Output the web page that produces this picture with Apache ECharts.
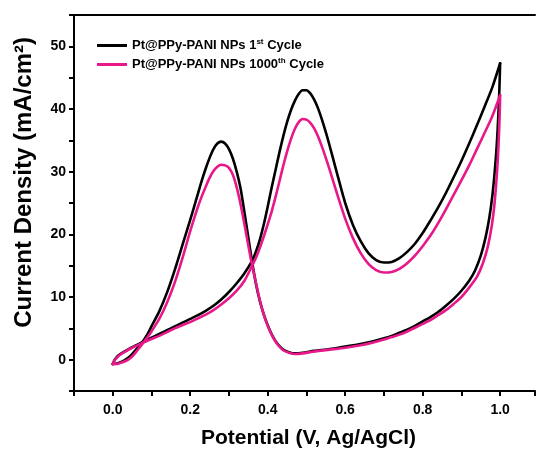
<!DOCTYPE html>
<html>
<head>
<meta charset="utf-8">
<script src="https://cdn.jsdelivr.net/npm/echarts@6/dist/echarts.min.js"></script>
<style>
html,body{margin:0;padding:0;background:#fff;}
#chart{width:538px;height:454px;}
</style>
</head>
<body>
<div id="chart"></div>
<script>
// Series names
var seriesNames = ['Pt@PPy-PANI NPs 1st Cycle', 'Pt@PPy-PANI NPs 1000th Cycle'];

// Cycle 1: forward (anodic) sweep 0 -> 1.0 V  [potential V, current density mA/cm2]
var cycle1Forward = [
  [0.000,-0.7],[0.005,0.0],[0.015,0.7],[0.03,1.3],[0.05,2.0],[0.08,2.9],[0.10,3.5],
  [0.12,4.1],[0.14,4.7],[0.16,5.3],[0.18,5.9],[0.20,6.5],[0.22,7.1],[0.24,7.8],
  [0.26,8.6],[0.28,9.6],[0.30,10.8],[0.32,12.2],[0.34,13.8],[0.36,15.8],[0.37,17.3],
  [0.38,19.2],[0.39,21.6],[0.40,24.4],[0.41,27.4],[0.42,30.2],[0.43,33.0],[0.44,35.6],
  [0.45,37.9],[0.46,39.8],[0.47,41.3],[0.48,42.4],[0.49,43.0],[0.50,43.0],[0.51,42.5],
  [0.52,41.5],[0.53,40.1],[0.54,38.3],[0.55,36.3],[0.56,34.1],[0.57,31.8],[0.58,29.5],
  [0.60,25.0],[0.62,21.5],[0.64,18.9],[0.66,17.0],[0.68,15.9],[0.70,15.5],[0.72,15.6],
  [0.74,16.2],[0.76,17.2],[0.78,18.5],[0.80,20.2],[0.82,22.2],[0.84,24.3],[0.86,26.6],
  [0.88,29.1],[0.90,31.7],[0.92,34.5],[0.94,37.4],[0.96,40.4],[0.98,43.5],[1.00,47.3]
];
// Cycle 1: reverse (cathodic) sweep 1.0 -> 0 V
var cycle1Reverse = [
  [1.000,47.3],[0.998,43.0],[0.995,38.5],[0.991,34.0],[0.986,30.0],[0.980,26.2],
  [0.972,22.6],[0.962,19.4],[0.950,16.6],[0.935,14.2],[0.92,12.6],[0.90,11.0],
  [0.88,9.7],[0.86,8.6],[0.84,7.6],[0.82,6.8],[0.80,6.1],[0.78,5.4],[0.76,4.8],
  [0.74,4.3],[0.72,3.8],[0.70,3.4],[0.67,2.9],[0.64,2.5],[0.60,2.1],[0.56,1.7],
  [0.52,1.4],[0.49,1.1],[0.47,1.0],[0.455,1.2],[0.44,1.6],[0.43,2.2],[0.42,3.0],
  [0.41,4.1],[0.40,5.5],[0.39,7.2],[0.38,9.3],[0.37,12.0],[0.36,15.5],[0.35,19.5],
  [0.34,23.5],[0.33,27.3],[0.32,30.0],[0.31,32.1],[0.30,33.6],[0.29,34.5],[0.28,34.8],
  [0.27,34.5],[0.26,33.6],[0.25,32.2],[0.24,30.5],[0.23,28.6],[0.22,26.5],[0.21,24.4],
  [0.20,22.3],[0.18,18.3],[0.16,14.3],[0.14,10.7],[0.12,7.7],[0.10,5.3],[0.09,4.1],
  [0.08,3.1],[0.07,2.3],[0.06,1.6],[0.05,0.9],[0.04,0.3],[0.03,-0.1],[0.02,-0.4],
  [0.01,-0.6],[0.00,-0.7]
];

// Cycle 1000: forward sweep
var cycle1000Forward = [
  [0.000,-0.7],[0.005,-0.1],[0.015,0.6],[0.03,1.2],[0.05,1.9],[0.085,2.9],[0.10,3.3],
  [0.12,3.8],[0.14,4.4],[0.16,5.0],[0.18,5.5],[0.20,6.0],[0.22,6.6],[0.24,7.2],
  [0.26,7.9],[0.28,8.8],[0.30,9.8],[0.32,11.0],[0.34,12.6],[0.36,15.0],[0.37,16.3],
  [0.38,17.9],[0.39,19.7],[0.40,21.6],[0.41,23.6],[0.42,25.9],[0.43,28.4],[0.44,30.9],
  [0.45,33.2],[0.46,35.2],[0.47,36.8],[0.48,37.9],[0.49,38.4],[0.50,38.3],[0.51,37.8],
  [0.52,36.9],[0.53,35.6],[0.54,34.0],[0.55,32.2],[0.56,30.3],[0.57,28.3],[0.58,26.3],
  [0.60,22.5],[0.62,19.4],[0.64,17.0],[0.66,15.3],[0.68,14.3],[0.70,13.9],[0.72,14.0],
  [0.74,14.5],[0.76,15.4],[0.78,16.6],[0.80,18.1],[0.82,19.8],[0.84,21.8],[0.86,24.0],
  [0.88,26.3],[0.90,28.6],[0.92,31.0],[0.94,33.6],[0.96,36.2],[0.98,38.9],[1.00,42.2]
];
// Cycle 1000: reverse sweep
var cycle1000Reverse = [
  [1.000,42.2],[0.999,39.5],[0.997,36.0],[0.994,32.0],[0.990,28.2],[0.985,24.6],
  [0.978,21.2],[0.968,18.0],[0.955,15.3],[0.94,13.2],[0.92,11.5],[0.90,10.0],
  [0.88,8.9],[0.86,7.9],[0.84,7.1],[0.82,6.3],[0.80,5.7],[0.78,5.1],[0.76,4.5],
  [0.74,4.0],[0.72,3.6],[0.70,3.2],[0.67,2.7],[0.64,2.3],[0.60,1.9],[0.56,1.6],
  [0.52,1.3],[0.49,1.0],[0.47,0.9],[0.455,1.1],[0.44,1.5],[0.43,2.1],[0.42,2.9],
  [0.41,4.0],[0.40,5.4],[0.39,7.2],[0.38,9.4],[0.37,12.2],[0.36,15.0],[0.35,18.2],
  [0.34,21.6],[0.33,24.8],[0.32,27.5],[0.31,29.5],[0.30,30.6],[0.29,31.0],[0.28,31.1],
  [0.27,30.8],[0.26,30.1],[0.25,29.0],[0.24,27.6],[0.23,26.1],[0.22,24.4],[0.21,22.5],
  [0.20,20.5],[0.18,16.2],[0.16,12.3],[0.14,9.1],[0.12,6.5],[0.10,4.5],[0.09,3.6],
  [0.08,2.8],[0.07,2.0],[0.06,1.2],[0.05,0.5],[0.04,0.0],[0.03,-0.3],[0.02,-0.5],
  [0.01,-0.7],[0.00,-0.7]
];

// Axis ranges / ticks
var xMin = -0.1, xMax = 1.09, xStep = 0.1;
var yMin = -5, yMax = 55, yStep = 5;
var xTitle = 'Potential (V, Ag/AgCl)';
var yTitle = 'Current Density (mA/cm\u00B2)';

var colors = ['#000000', '#e8178a'];
var FONT = '"Liberation Sans", Arial, sans-serif';

var chart = echarts.init(document.getElementById('chart'), null, {renderer:'canvas'});

function legendFmt(name){
  if (name === seriesNames[0]) return '{b|Pt@PPy-PANI NPs 1}{s|st}{b| Cycle}';
  return '{b|Pt@PPy-PANI NPs 1000}{s|th}{b| Cycle}';
}

function sweep(name, data, color, z){
  return {name: name, type: 'line', xAxisIndex: 0, data: data,
    showSymbol: false, smooth: 0.25,
    lineStyle: {color: color, width: 2.6, join: 'round', cap: 'round'},
    itemStyle: {color: color}, z: z};
}

chart.setOption({
  animation: false,
  backgroundColor: '#fff',
  grid: {left: 74, top: 15, right: 0, bottom: 62.6, containLabel: false},
  legend: {
    orient: 'vertical', left: 97, top: 38, padding: 0, itemGap: 5,
    itemWidth: 30, itemHeight: 3, icon: 'rect',
    data: seriesNames,
    formatter: legendFmt,
    textStyle: {
      fontFamily: FONT, color: '#000',
      rich: {
        b: {fontFamily: FONT, fontSize: 13, fontWeight: 'bold', color: '#000'},
        s: {fontFamily: FONT, fontSize: 8, fontWeight: 'bold', color: '#000', padding:[0,0,7,0]}
      }
    }
  },
  xAxis: [{
    type: 'value', min: xMin, max: xMax, interval: xStep,
    name: xTitle, nameLocation: 'middle', nameGap: 37,
    nameTextStyle: {fontFamily: FONT, fontSize: 21, fontWeight: 'bold', color: '#000', padding: [0,0,0,8]},
    axisLine: {show: true, onZero: false, lineStyle: {color: '#000', width: 2}},
    axisTick: {show: true, inside: false, length: 5, lineStyle: {color: '#000', width: 2}},
    splitLine: {show: false},
    axisLabel: {
      margin: 12, fontFamily: FONT, fontSize: 14, fontWeight: 'bold', color: '#000',
      formatter: function(v){ var k = Math.round(v*10); if (k < 0 || k > 10 || k % 2 !== 0) return ''; return (k/10).toFixed(1); }
    }
  }, {
    type: 'value', position: 'top', min: xMin, max: xMax, interval: xStep,
    axisLine: {show: true, onZero: false, lineStyle: {color: '#000', width: 2}},
    axisTick: {show: false}, axisLabel: {show: false}, splitLine: {show: false}
  }],
  yAxis: {
    type: 'value', min: yMin, max: yMax, interval: yStep,
    axisLine: {show: true, onZero: false, lineStyle: {color: '#000', width: 2}},
    axisTick: {show: true, inside: false, length: 5, lineStyle: {color: '#000', width: 2}},
    splitLine: {show: false},
    axisLabel: {
      margin: 8, fontFamily: FONT, fontSize: 14, fontWeight: 'bold', color: '#000',
      formatter: function(v){ var k = Math.round(v); if (k < 0 || k > 50 || k % 10 !== 0) return ''; return String(k); }
    }
  },
  graphic: [{
    type: 'text', left: 12, top: 37, rotation: Math.PI/2,
    style: {text: yTitle, fontFamily: FONT, fontSize: 24, fontWeight: 'bold', fill: '#000'}
  }],
  series: [
    sweep(seriesNames[0], cycle1Forward, colors[0], 2),
    sweep(seriesNames[0], cycle1Reverse, colors[0], 2),
    sweep(seriesNames[1], cycle1000Forward, colors[1], 3),
    sweep(seriesNames[1], cycle1000Reverse, colors[1], 3)
  ]
});
</script>
</body>
</html>
